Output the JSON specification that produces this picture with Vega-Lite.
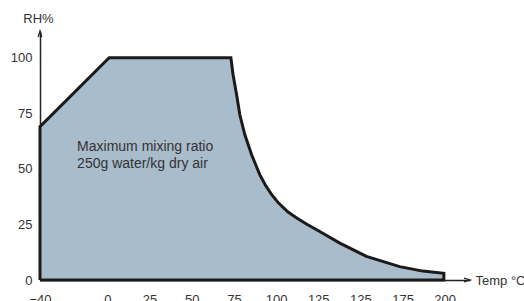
{
  "$schema": "https://vega.github.io/schema/vega-lite/v6.json",
  "width": 430,
  "height": 249,
  "autosize": {"type": "none"},
  "padding": {"left": 40, "top": 31, "right": 54, "bottom": 21},
  "config": {
    "view": {"stroke": null},
    "font": "Liberation Sans",
    "axis": {"labelFont": "Liberation Sans", "titleFont": "Liberation Sans", "labelFontSize": 13, "labelColor": "#333333", "titleFontSize": 13, "titleFontWeight": "normal", "titleColor": "#333333", "grid": false, "ticks": false, "domainColor": "#222222", "domainWidth": 1.5}
  },
  "datasets": {
    "outline": [
      {"ord": 1, "temp": -40, "rh": 0},
      {"ord": 2, "temp": -40, "rh": 69},
      {"ord": 3, "temp": 1, "rh": 100},
      {"ord": 4, "temp": 73.2, "rh": 100},
      {"ord": 5, "temp": 74.5, "rh": 92.3},
      {"ord": 6, "temp": 76.6, "rh": 83.3},
      {"ord": 7, "temp": 78.5, "rh": 74.3},
      {"ord": 8, "temp": 81.5, "rh": 65.3},
      {"ord": 9, "temp": 85.5, "rh": 56.3},
      {"ord": 10, "temp": 90.4, "rh": 47.3},
      {"ord": 11, "temp": 93.8, "rh": 42.5},
      {"ord": 12, "temp": 97.3, "rh": 38.5},
      {"ord": 13, "temp": 101.5, "rh": 34.6},
      {"ord": 14, "temp": 107.1, "rh": 30.6},
      {"ord": 15, "temp": 112.5, "rh": 27.8},
      {"ord": 16, "temp": 118, "rh": 25.2},
      {"ord": 17, "temp": 125.9, "rh": 21.8},
      {"ord": 18, "temp": 137.8, "rh": 16.6},
      {"ord": 19, "temp": 153.6, "rh": 10.6},
      {"ord": 20, "temp": 173.3, "rh": 6},
      {"ord": 21, "temp": 187, "rh": 4},
      {"ord": 22, "temp": 199.5, "rh": 3},
      {"ord": 23, "temp": 199.5, "rh": 0},
      {"ord": 24, "temp": -40, "rh": 0}
    ],
    "notes": [
      {"temp": -18, "rh": 60, "text": "Maximum mixing ratio"},
      {"temp": -18, "rh": 52, "text": "250g water/kg dry air"}
    ],
    "arrows": [
      {"temp": 215, "rh": 0, "dir": "x"},
      {"temp": -40, "rh": 112, "dir": "y"}
    ]
  },
  "layer": [
    {
      "data": {"name": "outline"},
      "transform": [{"filter": "datum.ord >= 2 && datum.ord <= 22"}],
      "mark": {"type": "area", "color": "#a9bccb", "opacity": 1},
      "encoding": {
        "x": {"field": "temp", "type": "quantitative", "scale": {"domain": [-40, 215], "nice": false, "zero": false},
          "axis": {"values": [-40, 0, 25, 50, 75, 100, 125, 150, 175, 200], "labelExpr": "datum.value == 150 ? '125' : datum.label", "labelPadding": 13, "labelFlush": false, "labelOverlap": false, "title": "Temp °C", "titleAnchor": "start", "titleAlign": "left", "titleBaseline": "middle", "titleX": 435, "titleY": 0}},
        "y": {"field": "rh", "type": "quantitative", "scale": {"domain": [0, 112], "nice": false},
          "axis": {"values": [0, 25, 50, 75, 100], "labelPadding": 8, "title": "RH%", "titleAngle": 0, "titleAlign": "center", "titleBaseline": "middle", "titleX": -2, "titleY": -13}}
      }
    },
    {
      "data": {"name": "outline"},
      "mark": {"type": "line", "color": "#1a1a1a", "strokeWidth": 3, "strokeJoin": "miter"},
      "encoding": {
        "x": {"field": "temp", "type": "quantitative"},
        "y": {"field": "rh", "type": "quantitative"},
        "order": {"field": "ord", "type": "quantitative"}
      }
    },
    {
      "data": {"name": "notes"},
      "mark": {"type": "text", "align": "left", "baseline": "middle", "fontSize": 14, "color": "#333333", "font": "Liberation Sans"},
      "encoding": {
        "x": {"field": "temp", "type": "quantitative"},
        "y": {"field": "rh", "type": "quantitative"},
        "text": {"field": "text"}
      }
    },
    {
      "data": {"name": "arrows"},
      "transform": [{"filter": "datum.dir == 'x'"}],
      "mark": {"type": "point", "shape": "M -2 -0.6 L 0 0 L -2 0.6", "size": 36, "filled": false, "stroke": "#222222", "strokeWidth": 1.3, "opacity": 1},
      "encoding": {
        "x": {"field": "temp", "type": "quantitative"},
        "y": {"field": "rh", "type": "quantitative"}
      }
    },
    {
      "data": {"name": "arrows"},
      "transform": [{"filter": "datum.dir == 'y'"}],
      "mark": {"type": "point", "shape": "M -0.6 2 L 0 0 L 0.6 2", "size": 36, "filled": false, "stroke": "#222222", "strokeWidth": 1.3, "opacity": 1},
      "encoding": {
        "x": {"field": "temp", "type": "quantitative"},
        "y": {"field": "rh", "type": "quantitative"}
      }
    }
  ]
}
